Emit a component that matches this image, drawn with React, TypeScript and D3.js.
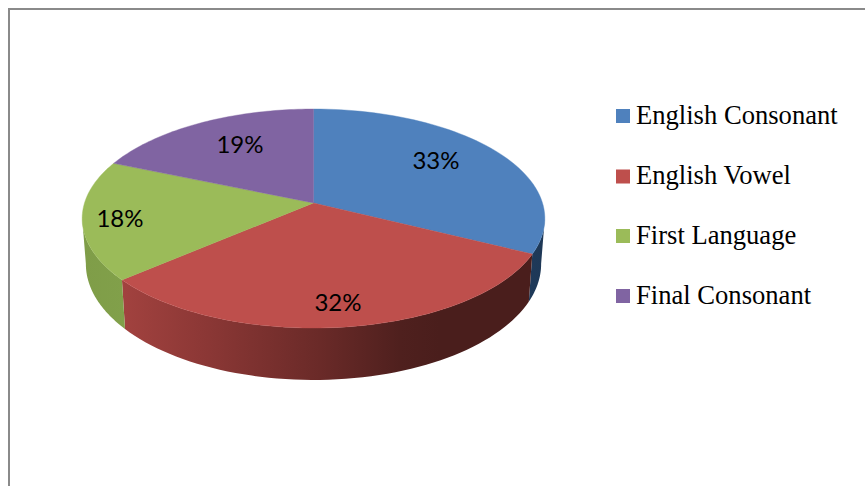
import React from "react";
import * as d3 from "d3";

// Shares as printed on the slice labels
const categories = ["English Consonant", "English Vowel", "First Language", "Final Consonant"];
const shares = [33, 32, 18, 19];
const faceColors = ["#4f81bd", "#be4f4c", "#9bbb59", "#8064a2"];
const legendTops = [109, 169.5, 229, 289];
const legendBaselines = [123.5, 183.5, 244, 304];
const labelSpots: [number, number][] = [[436, 159], [338, 301.5], [120, 217], [240, 143]];

// Wall shading along x for each slice
const wallStops: [number, string][][] = [
  [[520, "#1f3a5b"], [545, "#1e3856"]],
  [[122, "#a2423f"], [200, "#8d3836"], [320, "#6a2a28"], [400, "#4f201e"], [440, "#4a1e1c"], [535, "#4a1e1c"]],
  [[82, "#7f9d48"], [125, "#81a04a"]],
  [[80, "#604b7a"], [120, "#604b7a"]],
];

// Tilted-disc projection: the hub sits above the centre of the rim's ellipse
const W = 865, H = 486;
const hubX = 313.5, hubY = 203;
const spreadX = 229, spreadY = 107.3, tilt = 0.1416;
const wallDepth = 44.6, wallShrink = 0.016;

const project = (angle: number, lowered = false): [number, number] => {
  const ux = Math.sin(angle), uy = -Math.cos(angle);
  const w = 1 - tilt * uy;
  const x = (spreadX * ux) / w;
  const y = (spreadY * uy) / w;
  if (!lowered) return [hubX + x, hubY + y];
  return [hubX + x * (1 - wallShrink), hubY + y + wallDepth / w];
};

const arcSamples = (a0: number, a1: number, lowered = false) =>
  d3.range(0, 61).map((i) => project(a0 + ((a1 - a0) * i) / 60, lowered));

const pathOf = d3.line<[number, number]>().curve(d3.curveLinear);

const pieLayout = d3.pie<number>().sort(null).value((d) => d);

export default function App() {
  const slices = pieLayout(shares);
  // Walls run between the rim's two widest points, where the silhouette turns
  const frontLimit = (98 * Math.PI) / 180;
  const backLimit = (262 * Math.PI) / 180;

  return (
    <svg
      width={W}
      height={H}
      viewBox={`0 0 ${W} ${H}`}
      style={{ position: "fixed", left: 0, top: 0, background: "#fff", display: "block" }}
    >
      <defs>
        {wallStops.map((stops, i) => (
          <linearGradient
            key={i}
            id={`wall-${i}`}
            gradientUnits="userSpaceOnUse"
            x1={stops[0][0]}
            x2={stops[stops.length - 1][0]}
            y1={0}
            y2={0}
          >
            {stops.map(([x, c], j) => (
              <stop
                key={j}
                offset={(x - stops[0][0]) / (stops[stops.length - 1][0] - stops[0][0])}
                stopColor={c}
              />
            ))}
          </linearGradient>
        ))}
      </defs>

      {/* Frame: only the top and left edges fall inside the canvas */}
      <path d={`M9 ${H}V9H${W}`} fill="none" stroke="#8a8a8a" strokeWidth={2} />

      {/* Walls */}
      {slices.map((s, i) => {
        const a0 = Math.max(s.startAngle, frontLimit);
        const a1 = Math.min(s.endAngle, backLimit);
        if (a1 <= a0) return null;
        const upper = arcSamples(a0, a1);
        const lower = arcSamples(a1, a0, true);
        return <path key={i} d={`${pathOf([...upper, ...lower])}Z`} fill={`url(#wall-${i})`} />;
      })}

      {/* Top face */}
      {slices.map((s, i) => (
        <path
          key={i}
          d={`${pathOf([[hubX, hubY], ...arcSamples(s.startAngle, s.endAngle)])}Z`}
          fill={faceColors[i]}
          stroke={faceColors[i]}
          strokeWidth={0.4}
        />
      ))}

      {/* Percent labels */}
      {shares.map((v, i) => (
        <text
          key={i}
          x={labelSpots[i][0]}
          y={labelSpots[i][1]}
          textAnchor="middle"
          dominantBaseline="central"
          fontFamily="Lato, sans-serif"
          fontSize={24}
          fill="#000"
        >
          {v}%
        </text>
      ))}

      {/* Legend */}
      {categories.map((c, i) => (
        <g key={c}>
          <rect x={616} y={legendTops[i]} width={14} height={14} fill={faceColors[i]} />
          <text
            x={636}
            y={legendBaselines[i]}
            fontFamily="'Liberation Serif', serif"
            fontSize={26.6}
            fill="#000"
          >
            {c}
          </text>
        </g>
      ))}
    </svg>
  );
}
